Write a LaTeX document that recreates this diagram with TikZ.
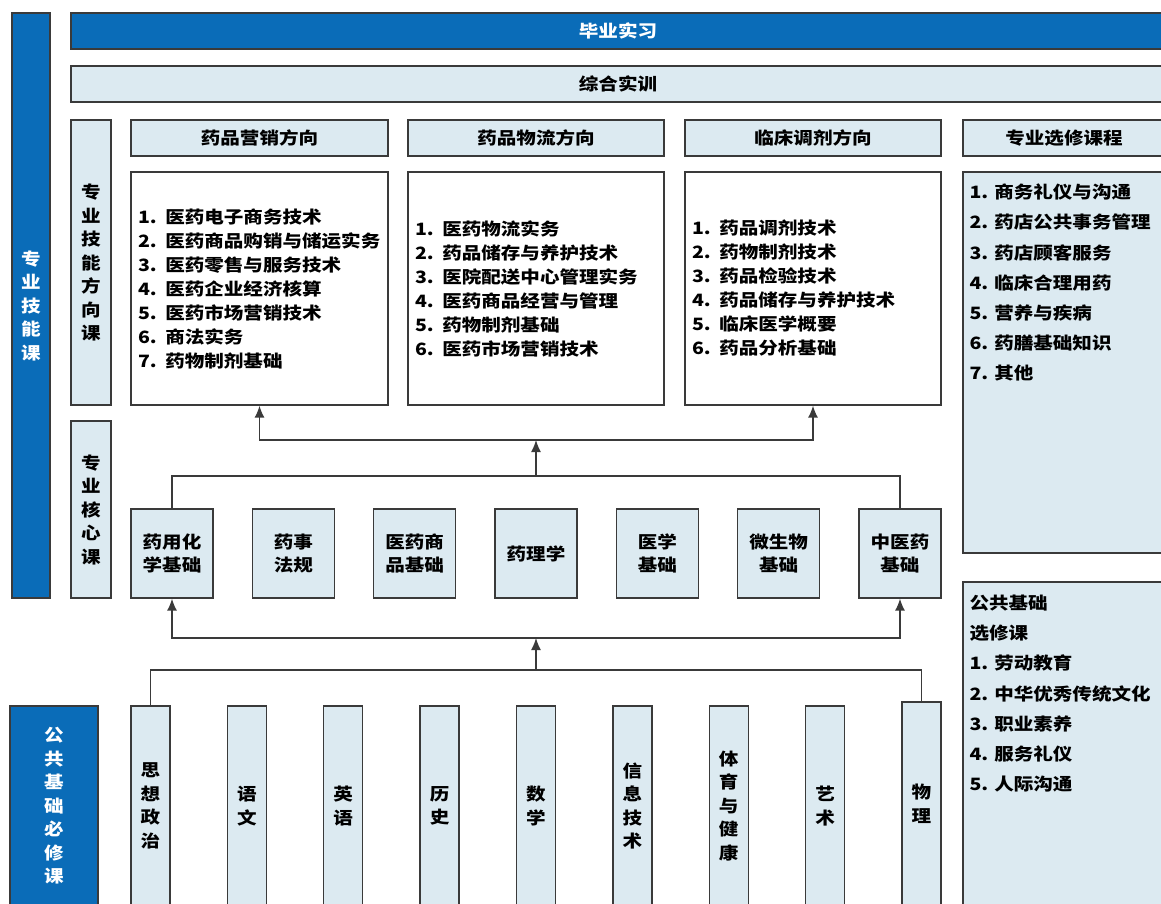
\documentclass[tikz,border=0pt]{standalone}
\usepackage{fontspec}
\setmainfont{Noto Sans CJK SC}[FakeStretch=1.15]
\usetikzlibrary{arrows.meta}

\definecolor{dblue}{HTML}{0A6CB8}
\definecolor{lblue}{HTML}{DCEAF1}
\definecolor{edge}{HTML}{3A3A3A}

\tikzset{
  base/.style={draw=edge, line width=1.3pt, inner sep=0pt, align=center,
    font=\fontsize{17pt}{23.5pt}\selectfont\bfseries},
  bluebar/.style={base, fill=dblue, text=white},
  pale/.style={base, fill=lblue},
  blank/.style={base, fill=white, align=left, inner xsep=7pt,
    font=\fontsize{17pt}{24pt}\selectfont\bfseries},
  listtext/.style={anchor=north west, inner sep=0pt, align=left,
    font=\fontsize{17pt}{30.2pt}\selectfont\bfseries},
  link/.style={draw=edge, line width=1.4pt},
}

\begin{document}
\begin{tikzpicture}[x=1pt, y=-1pt, >={Latex[length=12pt,width=10pt]}]
\useasboundingbox (0,0) rectangle (1161,904);
\clip (0,0) rectangle (1161,904);
\fill[white] (0,0) rectangle (1161,904);

% left labels
\node[bluebar, minimum width=38, minimum height=585] (skill) at (31,305.5) {专\\业\\技\\能\\课};
\node[bluebar, minimum width=88, minimum height=200] (pub) at (54,806) {公\\共\\基\\础\\必\\修\\课};

% top bars
\node[bluebar, minimum width=1094, minimum height=36] (intern) at (618,31) {毕业实习};
\node[pale, minimum width=1094, minimum height=36] (train) at (618,84) {综合实训};

\node[pale, minimum width=40, minimum height=285] (dirlab) at (91,262.5) {专\\业\\技\\能\\方\\向\\课};
\node[pale, minimum width=40, minimum height=177] (corelab) at (91,509.5) {专\\业\\核\\心\\课};

% direction headers
\node[pale, minimum width=257, minimum height=36] (h1) at (259.5,138) {药品营销方向};
\node[pale, minimum width=256, minimum height=36] (h2) at (536,138) {药品物流方向};
\node[pale, minimum width=256, minimum height=36] (h3) at (813,138) {临床调剂方向};
\node[pale, minimum width=202, minimum height=36] (h4) at (1064,138) {专业选修课程};

% direction courses
\node[blank, text width=243, minimum height=233] (b1) at (259.5,288.5) {1. 医药电子商务技术\\2. 医药商品购销与储运实务\\3. 医药零售与服务技术\\4. 医药企业经济核算\\5. 医药市场营销技术\\6. 商法实务\\7. 药物制剂基础};
\node[blank, text width=242, minimum height=233] (b2) at (536,288.5) {1. 医药物流实务\\2. 药品储存与养护技术\\3. 医院配送中心管理实务\\4. 医药商品经营与管理\\5. 药物制剂基础\\6. 医药市场营销技术};
\node[blank, text width=242, minimum height=233] (b3) at (813,288.5) {1. 药品调剂技术\\2. 药物制剂技术\\3. 药品检验技术\\4. 药品储存与养护技术\\5. 临床医学概要\\6. 药品分析基础};

% electives
\node[pale, minimum width=202, minimum height=381] (sel) at (1064,362.5) {};
\node[listtext] (seltext) at ([shift={(7,12.5)}]sel.north west) {1. 商务礼仪与沟通\\2. 药店公共事务管理\\3. 药店顾客服务\\4. 临床合理用药\\5. 营养与疾病\\6. 药膳基础知识\\7. 其他};
\node[pale, minimum width=202, minimum height=324] (pubsel) at (1064,744) {};
\node[listtext] (pubseltext) at ([shift={(7,13.5)}]pubsel.north west) {公共基础\\选修课\\1. 劳动教育\\2. 中华优秀传统文化\\3. 职业素养\\4. 服务礼仪\\5. 人际沟通};

% core courses
\foreach \txt [count=\i] in {药用化\\学基础, 药事\\法规, 医药商\\品基础, 药理学, 医学\\基础, 微生物\\基础, 中医药\\基础}
  \node[pale, minimum width=82, minimum height=89] (c\i) at ({172+121.33*(\i-1)},553.5) {\txt};

% public compulsory courses
\foreach \txt [count=\i] in {思\\想\\政\\治, 语\\文, 英\\语, 历\\史, 数\\学, 信\\息\\技\\术, 体\\育\\与\\健\\康, 艺\\术}
  \node[pale, minimum width=39, minimum height=200] (p\i) at ({150.5+96.375*(\i-1)},806) {\txt};
\node[pale, minimum width=39, minimum height=204] (p9) at (921.5,804) {物\\理};

% connectors
\coordinate (m1) at (536,476);
\coordinate (m2) at (536,440);
\draw[link] (c1.north) |- (m1) -| (c7.north);
\draw[link,->] (m1) -- (m2);
\draw[link,->] (m2) -| (b1.south);
\draw[link,->] (m2) -| (b3.south);

\coordinate (n1) at (536,670);
\coordinate (n2) at (536,638);
\draw[link] (p1.north) |- (n1) -| (p9.north);
\draw[link,->] (n1) -- (n2);
\draw[link,->] (n2) -| (c1.south);
\draw[link,->] (n2) -| (c7.south);

\end{tikzpicture}
\end{document}
